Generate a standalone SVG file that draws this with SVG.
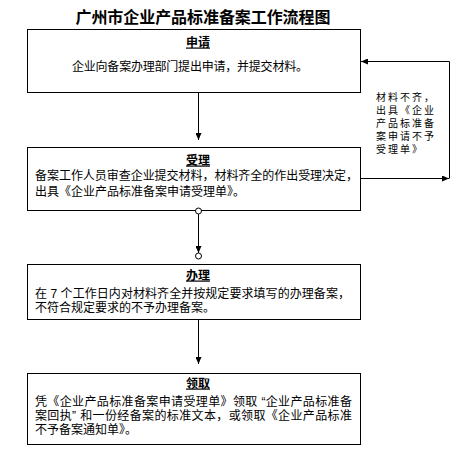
<svg xmlns="http://www.w3.org/2000/svg" width="456" height="467" viewBox="0 0 456 467">
<style>
.box{fill:#fff;stroke:#000;stroke-width:1}
.t{font-family:"Liberation Sans","Noto Sans CJK SC","Noto Sans CJK TC",sans-serif;font-size:12px;fill:#000}
.h{font-family:"Liberation Sans","Noto Sans CJK SC",sans-serif;font-size:12px;font-weight:bold;text-decoration:underline;fill:#000}
.s{font-family:"Liberation Sans","Noto Sans CJK SC",sans-serif;font-size:10px;fill:#000;letter-spacing:2px}
.ln{fill:none;stroke:#000;stroke-width:1}
</style>
<defs>
<marker id="ar" markerWidth="7" markerHeight="6" refX="7" refY="3" orient="auto" markerUnits="userSpaceOnUse"><path d="M0,0 L7,3 L0,6 z" fill="#000"/></marker>
</defs>
<rect width="456" height="467" fill="#fff"/>
<text x="203" y="23" text-anchor="middle" font-family="Liberation Sans,Noto Sans CJK SC,sans-serif" font-size="16" font-weight="bold" textLength="255">广州市企业产品标准备案工作流程图</text>
<g id="n1">
<rect class="box" x="27.5" y="29.5" width="333" height="63"/>
<text class="h" x="198" y="46.5" text-anchor="middle">申请</text>
<text class="t" x="72" y="70.5" textLength="236">企业向备案办理部门提出申请，并提交材料。</text>
</g>
<g id="n2">
<rect class="box" x="27.5" y="147.5" width="333" height="63"/>
<text class="h" x="198" y="164.5" text-anchor="middle">受理</text>
<text class="t"><tspan x="35" y="179.5" textLength="323">备案工作人员审查企业提交材料，材料齐全的作出受理决定，</tspan><tspan x="35" y="195.5">出具《企业产品标准备案申请受理单》。</tspan></text>
</g>
<g id="n3">
<rect class="box" x="27.5" y="264.5" width="333" height="55"/>
<text class="h" x="198" y="279.5" text-anchor="middle">办理</text>
<text class="t"><tspan x="35" y="297.5" textLength="315">在 7 个工作日内对材料齐全并按规定要求填写的办理备案，</tspan><tspan x="35" y="311.5">不符合规定要求的不予办理备案。</tspan></text>
</g>
<g id="n4">
<rect class="box" x="27.5" y="373.5" width="333" height="71"/>
<text class="h" x="198" y="387.5" text-anchor="middle">领取</text>
<text class="t"><tspan x="35" y="406" textLength="317">凭《企业产品标准备案申请受理单》领取 “企业产品标准备</tspan><tspan x="35" y="420" textLength="317">案回执” 和一份经备案的标准文本，或领取《企业产品标准</tspan><tspan x="35" y="434">不予备案通知单》。</tspan></text>
</g>
<g id="note">
<text class="s"><tspan x="376" y="101">材料不齐，</tspan><tspan x="376" y="114">出具《企业</tspan><tspan x="376" y="127">产品标准备</tspan><tspan x="376" y="140">案申请不予</tspan><tspan x="376" y="153">受理单》</tspan></text>
</g>
<g id="connectors">
<path class="ln" d="M198.5,93 V140" marker-end="url(#ar)"/>
<circle cx="198.5" cy="211" r="3" fill="#fff" stroke="#000"/>
<path class="ln" d="M198.5,214 V253" marker-end="url(#ar)"/>
<circle cx="198.5" cy="256" r="3" fill="#fff" stroke="#000"/>
<path class="ln" d="M198.5,320 V364" marker-end="url(#ar)"/>
<path class="ln" d="M361,178.5 H449" marker-end="url(#ar)"/>
<path class="ln" d="M449.5,178.5 V61.5 H361" marker-end="url(#ar)"/>
</g>
</svg>
